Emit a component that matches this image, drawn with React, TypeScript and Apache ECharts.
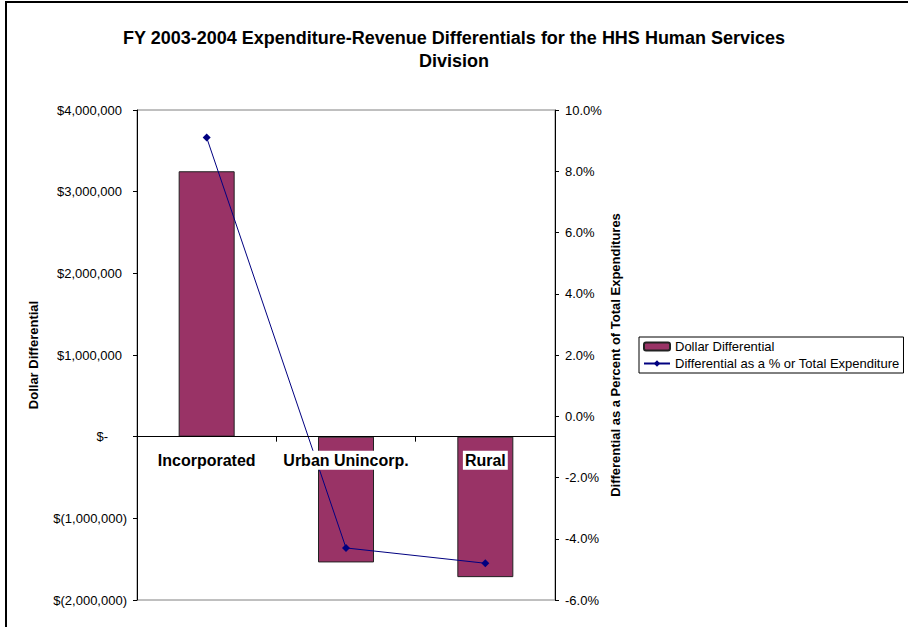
import React, { useEffect, useRef } from "react";
import * as echarts from "echarts";

const categories = ["Incorporated", "Urban Unincorp.", "Rural"];
const dollarDiff = [3250000, -1540000, -1720000];
const pctDiff = [9.1, -4.3, -4.8];
const seriesNames = ["Dollar Differential", "Differential as a % or Total Expenditure"];
const titleText = "FY 2003-2004 Expenditure-Revenue Differentials for the HHS Human Services\nDivision";
const leftAxisName = "Dollar Differential";
const rightAxisName = "Differential as a Percent of Total Expenditures";

const FONT = "Arial, 'Liberation Sans', sans-serif";

const LEFT_MIN = -2000000;
const LEFT_MAX = 4000000;
const GRID_TOP = 110;
const GRID_BOTTOM_Y = 600;

function fmtNum(v: number): string {
  return Math.abs(v).toLocaleString("en-US");
}

export default function App() {
  const ref = useRef<HTMLDivElement>(null);
  useEffect(() => {
    if (!ref.current) return;
    const chart = echarts.init(ref.current, null, { renderer: "svg" });
    // distance from grid bottom to the zero line of the left axis
    const zeroOffset = ((0 - LEFT_MIN) / (LEFT_MAX - LEFT_MIN)) * (GRID_BOTTOM_Y - GRID_TOP);
    const option = {
      animation: false,
      backgroundColor: "#ffffff",
      textStyle: { fontFamily: FONT },
      title: {
        text: titleText,
        left: 454,
        top: 26,
        padding: 0,
        textAlign: "center",
        textStyle: { fontFamily: FONT, fontSize: 18, fontWeight: "bold", color: "#000", lineHeight: 23 },
      },
      graphic: [
        {
          type: "rect",
          shape: { x: 6, y: 2, width: 1000, height: 1000 },
          style: { fill: "none", stroke: "#000", lineWidth: 2 },
          silent: true,
        },
      ],
      legend: {
        orient: "vertical",
        left: 639,
        top: 337,
        padding: [3, 4, 3, 4],
        itemGap: 4,
        itemWidth: 26,
        itemHeight: 8,
        borderColor: "#000",
        borderWidth: 1,
        data: seriesNames,
        textStyle: { fontFamily: FONT, fontSize: 13, color: "#000" },
      },
      grid: {
        left: 137,
        right: 353,
        top: GRID_TOP,
        bottom: 627 - GRID_BOTTOM_Y,
        show: true,
        borderColor: "#808080",
        borderWidth: 1,
        backgroundColor: "transparent",
        containLabel: false,
        outerBoundsMode: "none",
      },
      xAxis: {
        type: "category",
        data: categories,
        z: 10,
        position: "bottom",
        offset: -zeroOffset,
        boundaryGap: true,
        axisLine: { onZero: false, lineStyle: { color: "#000", width: 1 } },
        axisTick: { show: true, interval: 0, length: 5, lineStyle: { color: "#000" } },
        axisLabel: {
          interval: 0,
          margin: 14,
          fontFamily: FONT,
          fontSize: 16,
          fontWeight: "bold",
          color: "#000",
          backgroundColor: "#fff",
          padding: [2, 2, 1, 2],
        },
        splitLine: { show: false },
      },
      yAxis: [
        {
          type: "value",
          min: LEFT_MIN,
          max: LEFT_MAX,
          interval: 1000000,
          name: leftAxisName,
          nameLocation: "middle",
          nameGap: 97,
          nameTextStyle: { fontFamily: FONT, fontSize: 13, fontWeight: "bold", color: "#000" },
          axisLine: { show: true, lineStyle: { color: "#000" } },
          axisTick: { show: true, length: 4, lineStyle: { color: "#000" } },
          splitLine: { show: false },
          axisLabel: {
            margin: 10,
            color: "#000",
            fontFamily: FONT,
            fontSize: 13,
            formatter: (v: number) => {
              if (v === 0) return "{z|$-}";
              if (v < 0) return "{n|$(" + fmtNum(v) + ")}";
              return "{p|$" + fmtNum(v) + "}";
            },
            rich: {
              z: { fontFamily: FONT, fontSize: 13, color: "#000", padding: [0, 19, 0, 0] },
              n: { fontFamily: FONT, fontSize: 13, color: "#000", padding: [0, 0, 0, 0] },
              p: { fontFamily: FONT, fontSize: 13, color: "#000", padding: [0, 5, 0, 0] },
            },
          },
        },
        {
          type: "value",
          min: -6,
          max: 10,
          interval: 2,
          position: "right",
          name: rightAxisName,
          nameLocation: "middle",
          nameGap: 54,
          nameTextStyle: { fontFamily: FONT, fontSize: 13, fontWeight: "bold", color: "#000" },
          axisLine: { show: true, lineStyle: { color: "#000" } },
          axisTick: { show: true, length: 4, lineStyle: { color: "#000" } },
          splitLine: { show: false },
          axisLabel: {
            margin: 10,
            color: "#000",
            fontFamily: FONT,
            fontSize: 13,
            formatter: (v: number) => v.toFixed(1) + "%",
          },
        },
      ],
      series: [
        {
          name: seriesNames[0],
          type: "bar",
          yAxisIndex: 0,
          data: dollarDiff,
          barWidth: 56,
          itemStyle: { color: "#993366", borderColor: "#222", borderWidth: 1 },
        },
        {
          name: seriesNames[1],
          type: "line",
          yAxisIndex: 1,
          data: pctDiff,
          symbol: "diamond",
          symbolSize: 8,
          lineStyle: { color: "#000080", width: 1 },
          itemStyle: { color: "#000080" },
          z: 5,
        },
      ],
    };
    chart.setOption(option as any);
    return () => chart.dispose();
  }, []);
  return (
    <div
      ref={ref}
      style={{ position: "absolute", left: 0, top: 0, width: 908, height: 627, background: "#fff" }}
    />
  );
}
